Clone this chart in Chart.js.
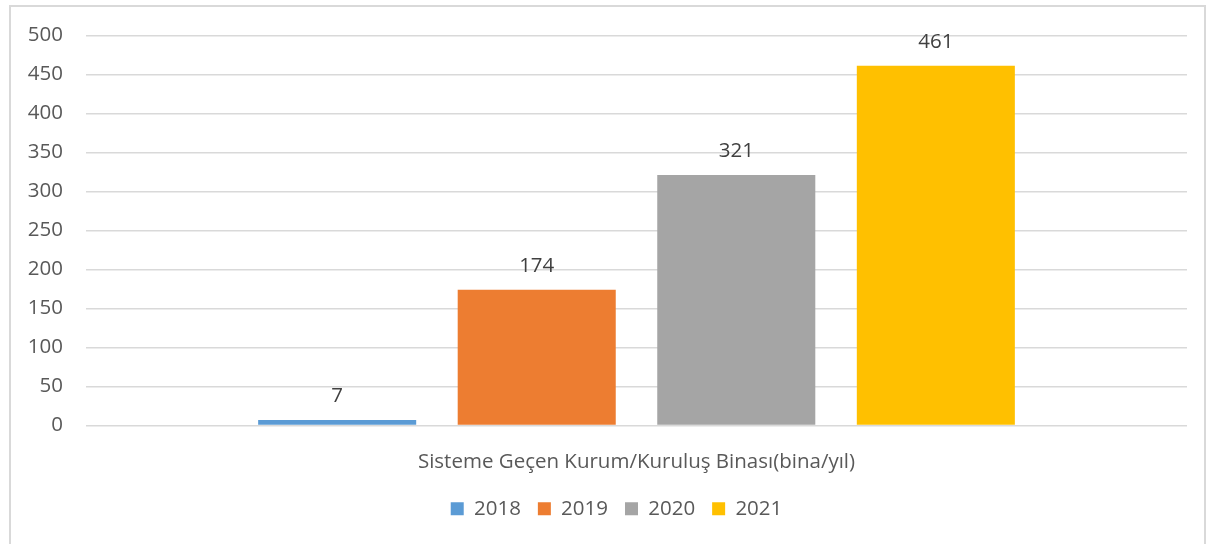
<!DOCTYPE html>
<html>
<head>
<meta charset="utf-8">
<script src="https://cdn.jsdelivr.net/npm/chart.js@4"></script>
<style>
  html, body { margin: 0; padding: 0; background: #fff; overflow: hidden; }
  #frame {
    position: absolute; left: 9px; top: 5px; width: 1197px; height: 560px;
    border: 2px solid #d9d9d9; box-sizing: border-box;
  }
  #wrap { position: absolute; left: 0; top: 0; width: 1216px; height: 544px; }
</style>
</head>
<body>
<div id="frame"></div>
<div id="wrap"><canvas id="grafico"></canvas></div>
<script>
// ===============================
// DATOS
// ===============================
const categorias = ["Sisteme Geçen Kurum/Kuruluş Binası(bina/yıl)"];
const anios = ["2018", "2019", "2020", "2021"];
const valores = [7, 174, 321, 461];
const colores = ["#5b9bd5", "#ed7d31", "#a5a5a5", "#ffc000"];
const ticksY = [0, 50, 100, 150, 200, 250, 300, 350, 400, 450, 500];

const FUENTE = "'Open Sans', 'Liberation Sans', sans-serif";
const GRIS_TEXTO = "#595959";
const TAM = 20.5;

// ===============================
// ETIQUETAS SOBRE BARRAS
// ===============================
const etiquetas = {
  id: "etiquetas",
  afterDatasetsDraw(chart) {
    const ctx = chart.ctx;
    ctx.save();
    ctx.font = TAM + "px " + FUENTE;
    ctx.fillStyle = "#404040";
    ctx.textAlign = "center";
    ctx.textBaseline = "middle";
    chart.data.datasets.forEach((ds, i) => {
      const meta = chart.getDatasetMeta(i);
      meta.data.forEach((bar, j) => {
        ctx.fillText(String(ds.data[j]), bar.x, bar.y - 24);
      });
    });
    ctx.restore();
  }
};

// leyenda centrada bajo el área del gráfico
const moverLeyenda = {
  id: "moverLeyenda",
  afterLayout(chart) {
    if (!chart.legend) return;
    chart.legend.left += 23;
    chart.legend.right += 23;
  }
};

// ===============================
// GRÁFICO
// ===============================
const datasets = anios.map((a, i) => ({
  label: a,
  data: [valores[i]],
  backgroundColor: colores[i],
  categoryPercentage: 0.725,
  barPercentage: 0.792
}));

new Chart(document.getElementById("grafico"), {
  type: "bar",
  data: { labels: categorias, datasets },
  plugins: [etiquetas, moverLeyenda],
  options: {
    responsive: true,
    maintainAspectRatio: false,
    animation: false,
    layout: { padding: { top: 35, right: 29, bottom: 15, left: 0 } },
    plugins: {
      legend: {
        position: "bottom",
        labels: {
          boxWidth: 13,
          boxHeight: 13,
          padding: 17,
          color: GRIS_TEXTO,
          font: { family: FUENTE, size: TAM }
        }
      },
      tooltip: { enabled: false }
    },
    scales: {
      x: {
        afterFit: axis => { axis.height = 56; },
        grid: { display: false, drawTicks: false },
        border: { display: false },
        ticks: { padding: 24, color: GRIS_TEXTO, font: { family: FUENTE, size: TAM } }
      },
      y: {
        min: 0,
        max: 500,
        afterBuildTicks: axis => { axis.ticks = ticksY.map(v => ({ value: v })); },
        afterFit: axis => { axis.width = 86; },
        grid: { color: "#d9d9d9", lineWidth: 1.5, drawTicks: false },
        border: { display: false },
        ticks: { padding: 23, color: GRIS_TEXTO, font: { family: FUENTE, size: TAM } }
      }
    }
  }
});
</script>
</body>
</html>
